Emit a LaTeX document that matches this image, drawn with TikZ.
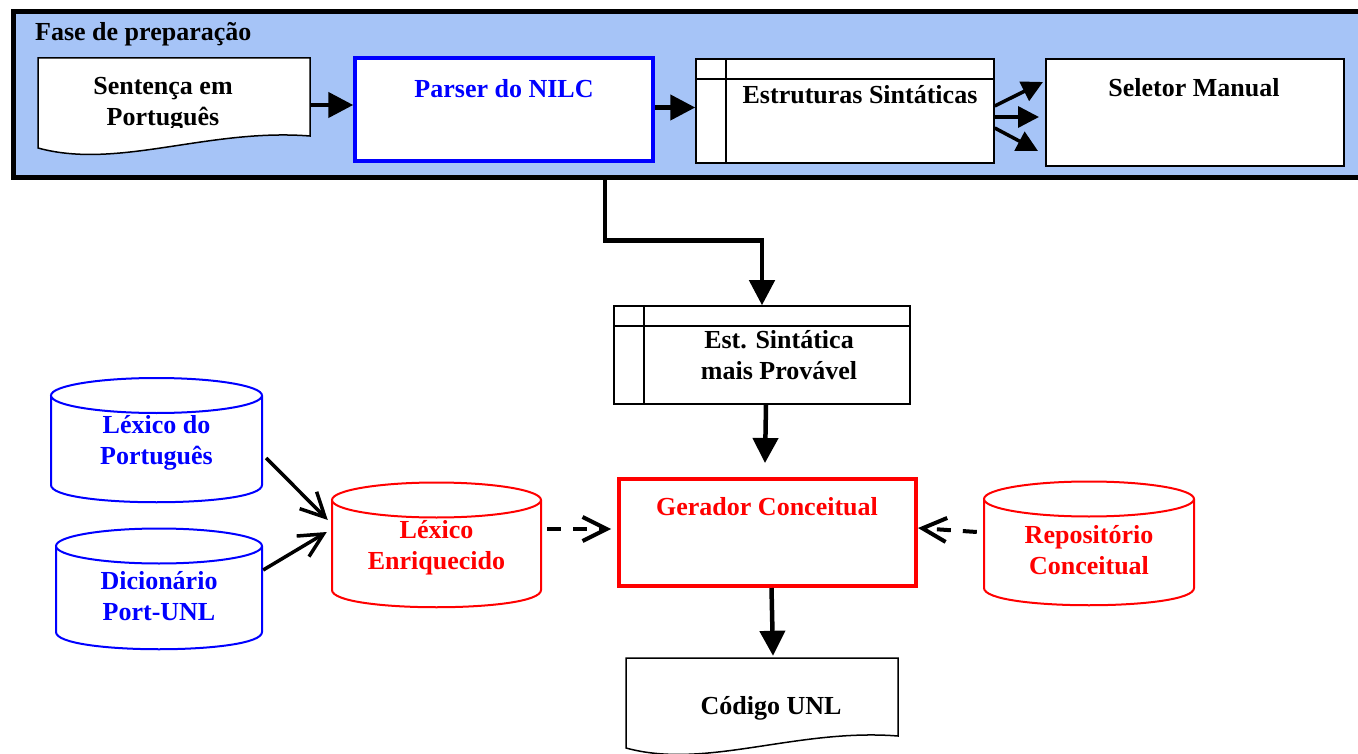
\documentclass[tikz,border=0pt]{standalone}
\usepackage{fontspec}
\setmainfont{Liberation Serif}
\usetikzlibrary{arrows.meta}
\definecolor{phasebg}{RGB}{166,196,247}

\begin{document}
\begin{tikzpicture}[x=1pt, y=-1pt,
    lbl/.style={font=\fontsize{26}{31}\selectfont\bfseries, align=center, inner sep=0pt},
    procbox/.style={draw, fill=white, inner sep=0pt},
    storebox/.style={procbox, line width=1.5pt, path picture={
        \draw[line width=1.5pt] ([yshift=-20pt]path picture bounding box.north west) -- ([yshift=-20pt]path picture bounding box.north east);
        \draw[line width=1.5pt] ([xshift=30pt]path picture bounding box.north west) -- ([xshift=30pt]path picture bounding box.south west);}},
    docline/.style={line width=1.5pt, fill=white},
    flow/.style={line width=4.5pt, -{Triangle[length=25pt, width=25pt]}},
    fan/.style={line width=3.5pt, -{Triangle[length=21pt, width=21pt]}},
    feed/.style={line width=3.5pt, -{Straight Barb[length=24pt, width=24pt]}},
    lookup/.style={feed, line width=4pt, dash pattern=on 14pt off 12pt}]
\useasboundingbox (0,0) rectangle (1358,754);

% Fase de preparacao
\node[draw, fill=phasebg, line width=5pt, minimum width=1372pt, minimum height=166pt, inner sep=0pt] (fase) at (699,95) {};
\node[lbl, anchor=west] (fasetxt) at (35,34) {Fase de preparação};

% Documents
\foreach \nm/\xo/\yo in {sent/38/58, cod/626/658} {
    \draw[docline] (\xo,\yo) -- ({\xo+272},\yo) -- ({\xo+272},{\yo+78})
        .. controls ({\xo+170},{\yo+70}) and ({\xo+80},{\yo+112}) .. (\xo,{\yo+90}) -- cycle;
    \node[minimum width=272pt, minimum height=78pt, inner sep=0pt] (\nm) at ({\xo+136},{\yo+39}) {};
}
\begin{scope}
    \clip (38,58) rectangle (310,128);
    \node[lbl] (senttxt) at (163,104) {Sentença em\\Português};
\end{scope}
\node[lbl] (codtxt) at (771,708) {Código UNL};

% Boxes
\node[procbox, draw=blue, line width=3.5pt, minimum width=298pt, minimum height=103pt] (parser) at (504,109.5) {};
\node[lbl, text=blue] (parsertxt) at (504,89) {Parser do NILC};
\node[storebox, minimum width=298pt, minimum height=104pt] (estr) at (845,111) {};
\node[lbl] (estrtxt) at (860,95) {Estruturas Sintáticas};
\node[procbox, line width=2pt, minimum width=298pt, minimum height=107pt] (selet) at (1195,112.5) {};
\node[lbl] (selettxt) at (1194,88) {Seletor Manual};
\node[storebox, minimum width=296pt, minimum height=98pt] (est) at (762,355) {};
\node[lbl] (esttxt) at (779,355) {Est. Sintática\\mais Provável};
\node[procbox, draw=red, line width=4pt, minimum width=297pt, minimum height=107pt] (ger) at (767.5,532.5) {};
\node[lbl, text=red] (gertxt) at (767,507) {Gerador Conceitual};

% Databases
\foreach \nm/\col/\xl/\xr/\yt/\yb/\ty/\txt in {
    lexpt/blue/51/262/395.5/485/442.5/{Léxico do\\Português},
    dicio/blue/56/262/546/632/596.5/{Dicionário\\Port-UNL},
    lexenr/red/332/541/500/590/547.5/{Léxico\\Enriquecido},
    repos/red/984/1194/499/588/550/{Repositório\\Conceitual}} {
    \draw[\col, line width=2pt, fill=white] (\xl,\yt) -- (\xl,\yb)
        .. controls (\xl,{\yb+23}) and (\xr,{\yb+23}) .. (\xr,\yb) -- (\xr,\yt);
    \draw[\col, line width=2pt, fill=white] ({(\xl+\xr)/2},\yt) ellipse [x radius={(\xr-\xl)/2*1pt}, y radius=17.5pt];
    \node[lbl, text=\col, minimum width={(\xr-\xl)*1pt}] (\nm) at ({(\xl+\xr)/2},\ty) {\txt};
}

% Connectors
\draw[flow] ([yshift=-8pt]sent.east) -- ([yshift=-8pt]sent.east -| parser.west);
\draw[flow] ([yshift=2pt]parser.east) -- ([yshift=2pt]parser.east -| estr.west);
\foreach \a/\dx/\b in {5/-2/30.5, -6/-6/-4.5, -17/-7/-38.5}
    \draw[fan] ([yshift=\a pt]estr.east) -- ([xshift=\dx pt, yshift=\b pt]selet.west);
\draw[flow, line join=miter] ([xshift=-94pt]fase.south) -- ++(0,60) -| (est.north);
\draw[flow] ([xshift=4pt]est.south) -- ([xshift=-2.5pt, yshift=14pt]ger.north);
\draw[flow] ([xshift=4pt]ger.south) -- ([xshift=11pt, yshift=2pt]cod.north);
\draw[feed] ([xshift=4pt, yshift=-15.5pt]lexpt.east) -- ([xshift=-4pt, yshift=27.5pt]lexenr.west);
\draw[feed] ([xshift=1pt, yshift=26.5pt]dicio.east) -- ([xshift=-5pt, yshift=15.5pt]lexenr.west);
\draw[lookup] ([xshift=6pt, yshift=18.5pt]lexenr.east) -- ([xshift=-6pt, yshift=3.5pt]ger.west);
\draw[lookup] ([xshift=-7pt, yshift=18pt]repos.west) -- ([yshift=4.5pt]ger.east);
\end{tikzpicture}
\end{document}
